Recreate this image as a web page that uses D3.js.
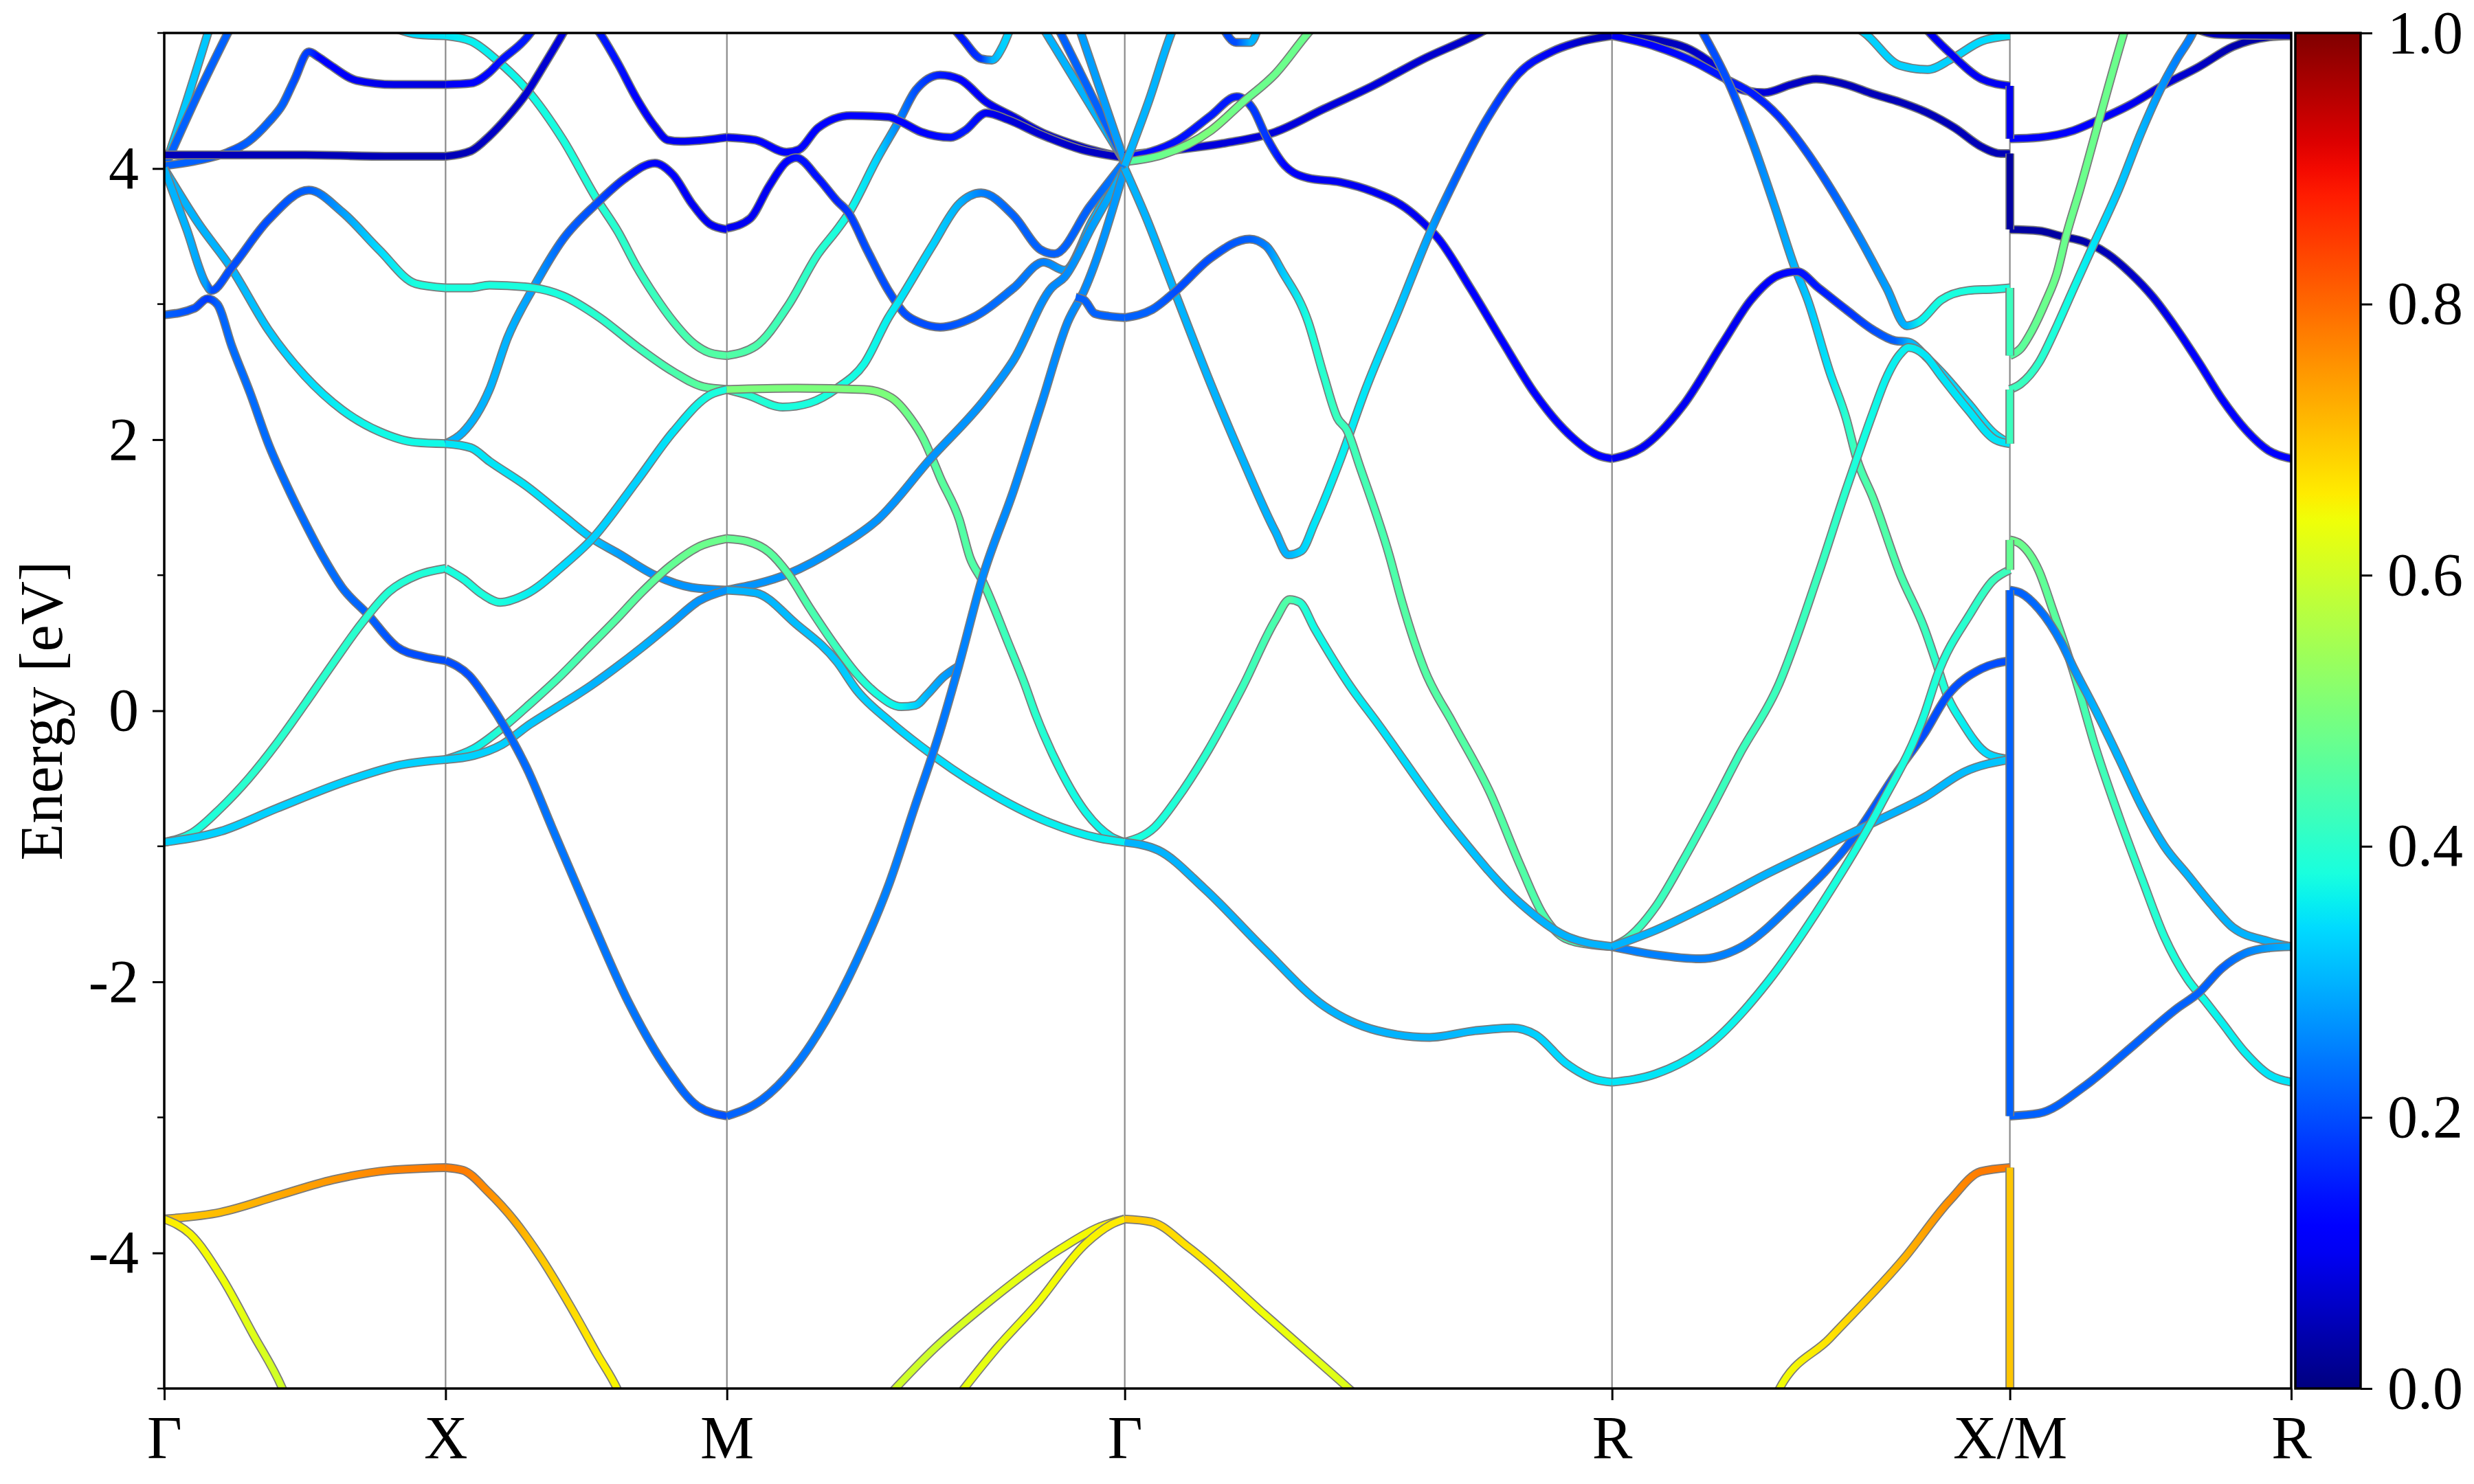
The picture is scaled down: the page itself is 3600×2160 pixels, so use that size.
<!DOCTYPE html>
<html><head><meta charset="utf-8">
<script src="https://cdn.jsdelivr.net/npm/d3@7"></script>
<style>body{margin:0;background:#fff}</style>
</head><body>
<svg id="c" width="3600" height="2160"></svg>
<script>
// ---------- axes data ----------
const kTicks = [0, 0.5, 1.0, 1.7071, 2.5731, 3.2802, 3.7802];
const kLabels = ["Γ", "X", "M", "Γ", "R", "X/M", "R"];
const yTicks = [-4, -2, 0, 2, 4];
const yMinorTicks = [-5, -3, -1, 1, 3, 5];
const cbTicks = [0.0, 0.2, 0.4, 0.6, 0.8, 1.0];

// ---------- bands: [k, E(eV), weight] ----------
// Γ - X
const gx1 = [[0,4.0,.33],[0.04,4.5,.32],[0.085,5.1,.32]];
const gx2 = [[0,4.0,.22],[0.06,4.55,.22],[0.125,5.1,.22]];
const gx3 = [[0,4.02,.22],[0.06,4.06,.22],[0.113,4.12,.2],[0.15,4.2,.22],[0.185,4.34,.22],[0.21,4.47,.22],[0.231,4.65,.2],[0.257,4.86,.18],[0.275,4.82,.12],[0.296,4.76,.12],[0.342,4.65,.1],[0.408,4.62,.09],[0.5,4.62,.08]];
const gx4 = [[0,4.1,.05],[0.1,4.1,.05],[0.25,4.1,.05],[0.4,4.09,.05],[0.5,4.09,.05]];
const gx5 = [[0,4.0,.3],[0.06,3.6,.3],[0.12,3.26,.3],[0.185,2.81,.32],[0.25,2.47,.34],[0.316,2.22,.36],[0.382,2.06,.37],[0.447,1.98,.37],[0.5,1.97,.37]];
const gx6 = [[0,4.0,.3],[0.04,3.55,.3],[0.074,3.15,.28],[0.084,3.1,.2],[0.12,3.27,.2],[0.185,3.62,.2],[0.257,3.84,.22],[0.316,3.68,.28],[0.382,3.4,.34],[0.447,3.15,.38],[0.5,3.12,.38]];
const gx7 = [[0,2.92,.22],[0.054,2.97,.2],[0.077,3.04,.18],[0.094,3.0,.22],[0.12,2.69,.23],[0.153,2.34,.23],[0.185,1.97,.23],[0.218,1.66,.23],[0.251,1.38,.23],[0.283,1.13,.23],[0.316,0.91,.23],[0.362,0.71,.22],[0.414,0.47,.2],[0.46,0.4,.2],[0.5,0.37,.2]];
const gx8 = [[0,-0.97,.38],[0.05,-0.9,.38],[0.1,-0.72,.39],[0.15,-0.5,.4],[0.2,-0.24,.4],[0.25,0.05,.4],[0.3,0.35,.4],[0.35,0.64,.4],[0.4,0.88,.39],[0.45,1.0,.39],[0.5,1.05,.38]];
const gx9 = [[0,-0.97,.33],[0.1,-0.89,.33],[0.2,-0.72,.33],[0.33,-0.51,.33],[0.42,-0.4,.33],[0.5,-0.36,.33]];
const gx10 = [[0,-3.75,.7],[0.1,-3.7,.71],[0.2,-3.58,.73],[0.3,-3.46,.75],[0.4,-3.39,.77],[0.5,-3.37,.78]];
const gx11 = [[0,-3.75,.66],[0.046,-3.86,.65],[0.102,-4.18,.64],[0.158,-4.6,.62],[0.21,-5.0,.6],[0.22,-5.1,.6]];
const gx12 = [[0.4,5.05,.33],[0.45,4.99,.34],[0.5,4.98,.35]];
// X - M
const xm1 = [[0.5,4.98,.35],[0.545,4.94,.36],[0.591,4.8,.36],[0.643,4.59,.37],[0.709,4.21,.38],[0.768,3.78,.39],[0.807,3.53,.4],[0.839,3.28,.41],[0.872,3.06,.42],[0.905,2.87,.43],[0.938,2.72,.44],[0.97,2.64,.45],[1.0,2.62,.45]];
const xm2 = [[0.5,4.09,.05],[0.545,4.13,.05],[0.578,4.24,.06],[0.61,4.38,.06],[0.643,4.55,.07],[0.676,4.77,.07],[0.709,5.0,.08],[0.72,5.08,.08]];
const xm3 = [[0.5,4.62,.1],[0.545,4.63,.12],[0.578,4.71,.13],[0.597,4.79,.14],[0.643,4.96,.15],[0.66,5.05,.15]];
const xm4 = [[0.76,5.08,.15],[0.774,5.0,.15],[0.807,4.77,.14],[0.839,4.52,.12],[0.872,4.31,.1],[0.895,4.21,.1],[0.918,4.2,.1],[0.96,4.21,.1],[1.0,4.23,.1]];
const xm5 = [[0.5,1.97,.3],[0.53,2.05,.3],[0.578,2.37,.3],[0.61,2.75,.3],[0.656,3.12,.28],[0.709,3.48,.22],[0.768,3.74,.2],[0.82,3.93,.15],[0.872,4.04,.12],[0.905,3.95,.12],[0.938,3.74,.1],[0.97,3.59,.1],[1.0,3.55,.1]];
const xm6 = [[0.5,3.12,.38],[0.545,3.12,.38],[0.578,3.14,.38],[0.656,3.12,.38],[0.709,3.06,.38],[0.774,2.9,.4],[0.839,2.69,.42],[0.905,2.5,.44],[0.958,2.39,.46],[1.0,2.37,.46]];
const xm7 = [[0.5,1.97,.35],[0.545,1.94,.35],[0.578,1.84,.35],[0.643,1.66,.35],[0.709,1.44,.34],[0.761,1.27,.32],[0.807,1.16,.28],[0.872,1.0,.27],[0.937,0.91,.27],[1.0,0.89,.27]];
const xm8 = [[0.5,1.05,.38],[0.532,0.97,.38],[0.565,0.86,.38],[0.597,0.8,.38],[0.643,0.86,.36],[0.709,1.07,.34],[0.761,1.27,.33],[0.839,1.69,.33],[0.905,2.06,.35],[0.97,2.33,.38],[1.0,2.37,.38]];
const xm9 = [[0.5,-0.36,.33],[0.55,-0.28,.36],[0.6,-0.13,.4],[0.65,0.05,.42],[0.7,0.24,.43],[0.75,0.45,.44],[0.8,0.66,.45],[0.85,0.88,.46],[0.9,1.07,.47],[0.95,1.21,.48],[1.0,1.27,.48]];
const xm10 = [[0.5,-0.36,.33],[0.55,-0.33,.33],[0.6,-0.25,.33],[0.65,-0.1,.32],[0.7,0.03,.32],[0.76,0.19,.3],[0.8,0.31,.3],[0.85,0.47,.3],[0.9,0.64,.28],[0.95,0.81,.27],[1.0,0.89,.27]];
const xm11 = [[0.5,0.37,.2],[0.542,0.26,.2],[0.576,0.07,.22],[0.605,-0.12,.22],[0.644,-0.42,.23],[0.689,-0.86,.24],[0.757,-1.52,.24],[0.825,-2.15,.24],[0.893,-2.64,.23],[0.949,-2.92,.22],[1.0,-2.99,.2]];
const xm12 = [[0.5,-3.37,.78],[0.531,-3.39,.78],[0.576,-3.55,.76],[0.622,-3.76,.73],[0.667,-4.02,.7],[0.72,-4.38,.68],[0.77,-4.75,.66],[0.808,-5.03,.65],[0.815,-5.1,.65]];
// M - Γ
const mg1 = [[1.0,2.62,.45],[1.051,2.69,.44],[1.109,2.99,.42],[1.162,3.37,.4],[1.196,3.55,.38],[1.215,3.66,.37],[1.268,4.08,.33],[1.307,4.36,.25],[1.336,4.58,.2],[1.379,4.69,.15],[1.413,4.66,.12],[1.461,4.49,.1],[1.51,4.38,.08],[1.558,4.27,.07],[1.63,4.16,.06],[1.707,4.08,.06]];
const mg2 = [[1.0,4.23,.1],[1.051,4.21,.12],[1.106,4.12,.12],[1.128,4.14,.13],[1.162,4.3,.12],[1.22,4.39,.12],[1.287,4.38,.12],[1.307,4.35,.12],[1.345,4.27,.12],[1.398,4.23,.14],[1.423,4.28,.15],[1.461,4.41,.1],[1.5,4.36,.08],[1.558,4.25,.07],[1.63,4.14,.06],[1.707,4.08,.06]];
const mg3 = [[1.0,3.56,.1],[1.041,3.63,.1],[1.075,3.87,.1],[1.106,4.05,.12],[1.123,4.08,.14],[1.162,3.93,.14],[1.196,3.76,.16],[1.215,3.68,.18],[1.249,3.4,.2],[1.287,3.1,.2],[1.316,2.93,.2],[1.345,2.86,.2],[1.379,2.83,.2],[1.437,2.9,.22],[1.51,3.12,.24],[1.563,3.31,.25],[1.6,3.25,.28],[1.65,3.62,.3],[1.707,4.02,.3]];
const mg4 = [[1.0,2.37,.42],[1.036,2.33,.4],[1.099,2.24,.38],[1.147,2.27,.38],[1.196,2.38,.38],[1.244,2.56,.37],[1.287,2.9,.36],[1.307,3.03,.35],[1.365,3.43,.33],[1.413,3.74,.3],[1.452,3.82,.25],[1.51,3.65,.22],[1.558,3.4,.22],[1.582,3.37,.22],[1.645,3.72,.22],[1.707,4.05,.25]];
const mg5 = [[1.0,2.37,.5],[1.123,2.38,.5],[1.244,2.37,.5],[1.292,2.31,.5],[1.326,2.16,.48],[1.35,2.0,.47],[1.365,1.86,.45],[1.379,1.72,.46],[1.413,1.41,.45],[1.432,1.13,.45],[1.454,0.96,.44],[1.5,0.5,.42],[1.529,0.2,.42],[1.548,-0.02,.4],[1.593,-0.44,.38],[1.638,-0.75,.37],[1.683,-0.93,.36],[1.707,-0.97,.36]];
const mg6 = [[1.0,0.89,.27],[1.109,1.01,.27],[1.196,1.2,.27],[1.268,1.41,.27],[1.36,1.85,.27],[1.461,2.31,.27],[1.51,2.59,.27],[1.577,3.12,.26],[1.6,3.2,.26],[1.65,3.58,.28],[1.707,4.0,.3]];
const mg7 = [[1.0,0.89,.3],[1.051,0.87,.3],[1.123,0.64,.31],[1.196,0.36,.32],[1.231,0.15,.33],[1.29,-0.08,.33],[1.344,-0.26,.34],[1.457,-0.58,.35],[1.57,-0.82,.36],[1.661,-0.94,.36],[1.707,-0.97,.36]];
const mg8 = [[1.0,1.27,.47],[1.036,1.25,.47],[1.075,1.17,.46],[1.109,1.01,.45],[1.147,0.76,.44],[1.196,0.46,.42],[1.229,0.28,.4],[1.265,0.13,.38],[1.31,0.03,.36],[1.335,0.04,.33],[1.356,0.12,.3],[1.385,0.25,.28],[1.412,0.33,.26]];
const mg9 = [[1.0,-2.99,.22],[1.062,-2.87,.23],[1.118,-2.64,.24],[1.175,-2.29,.25],[1.231,-1.84,.25],[1.288,-1.28,.25],[1.333,-0.72,.24],[1.378,-0.16,.24],[1.412,0.33,.25],[1.454,0.98,.26],[1.51,1.63,.26],[1.558,2.25,.26],[1.606,2.87,.26],[1.635,3.1,.26],[1.707,4.0,.28]];
const mg10 = [[1.62,3.05,.22],[1.635,3.03,.22],[1.654,2.93,.22],[1.679,2.91,.22],[1.707,2.9,.22]];
const mg11 = [[1.56,5.05,.3],[1.707,4.05,.3]];
const mg12 = [[1.587,5.05,.22],[1.707,4.05,.22]];
const mg13 = [[1.625,5.05,.28],[1.707,4.05,.28]];
const mg14 = [[1.4,5.05,.15],[1.42,4.95,.15],[1.452,4.81,.18],[1.471,4.8,.3],[1.49,4.9,.33],[1.505,5.05,.33]];
const mg15 = [[1.288,-5.05,.6],[1.37,-4.7,.6],[1.457,-4.39,.62],[1.593,-3.97,.64],[1.661,-3.81,.65],[1.707,-3.75,.66]];
const mg16 = [[1.412,-5.05,.63],[1.48,-4.7,.63],[1.548,-4.39,.64],[1.638,-3.93,.65],[1.683,-3.79,.66],[1.707,-3.75,.66]];
// Γ - R
const gr1 = [[1.707,4.1,.08],[1.802,4.14,.08],[1.888,4.19,.08],[1.975,4.27,.08],[2.061,4.44,.08],[2.148,4.61,.08],[2.234,4.8,.07],[2.338,5.0,.06],[2.36,5.05,.06]];
const gr2 = [[1.707,4.08,.12],[1.802,4.21,.14],[1.86,4.39,.15],[1.906,4.53,.15],[1.935,4.44,.18],[1.958,4.24,.18],[1.992,4.02,.12],[2.033,3.93,.1],[2.09,3.9,.1],[2.148,3.83,.1],[2.206,3.71,.1],[2.24,3.59,.1],[2.263,3.49,.12],[2.321,3.12,.12],[2.379,2.72,.12],[2.436,2.34,.12],[2.494,2.05,.12],[2.551,1.88,.12],[2.573,1.86,.12]];
const gr3 = [[1.707,4.05,.45],[1.773,4.1,.48],[1.86,4.28,.5],[1.917,4.49,.48],[1.975,4.7,.48],[2.033,5.0,.48],[2.05,5.08,.48]];
const gr4 = [[1.707,4.02,.3],[1.75,4.5,.3],[1.79,5.0,.3],[1.8,5.1,.3]];
const gr5 = [[1.88,5.05,.2],[1.905,4.93,.2],[1.93,4.93,.3],[1.945,5.05,.3]];
const gr6 = [[1.707,4.0,.3],[1.744,3.65,.3],[1.796,3.09,.3],[1.86,2.41,.3],[1.917,1.85,.3],[1.975,1.32,.3],[1.998,1.15,.3],[2.021,1.18,.33],[2.044,1.38,.35],[2.09,1.85,.36],[2.136,2.38,.35],[2.194,2.96,.32],[2.252,3.55,.28],[2.292,3.9,.22],[2.35,4.36,.2],[2.407,4.7,.15],[2.465,4.86,.1],[2.52,4.94,.06],[2.573,4.98,.05]];
const gr7 = [[1.707,2.9,.22],[1.756,2.96,.22],[1.796,3.09,.2],[1.86,3.34,.2],[1.929,3.48,.22],[1.958,3.43,.25],[1.987,3.24,.32],[2.033,2.87,.38],[2.061,2.47,.4],[2.085,2.16,.42],[2.102,2.07,.42],[2.125,1.8,.43],[2.177,1.15,.44],[2.2,0.8,.45],[2.24,0.3,.45],[2.29,-0.09,.45],[2.357,-0.61,.45],[2.41,-1.14,.45],[2.45,-1.5,.44],[2.49,-1.68,.43],[2.544,-1.73,.42],[2.573,-1.74,.42]];
const gr8 = [[1.707,-0.97,.38],[1.76,-0.86,.38],[1.8,-0.65,.39],[1.85,-0.33,.4],[1.917,0.18,.42],[1.975,0.67,.44],[2.0,0.82,.45],[2.018,0.8,.4],[2.044,0.61,.37],[2.108,0.18,.36],[2.156,-0.09,.35],[2.29,-0.86,.32],[2.41,-1.42,.3],[2.49,-1.66,.3],[2.573,-1.74,.3]];
const gr9 = [[1.707,-0.97,.3],[1.767,-1.03,.3],[1.848,-1.31,.3],[1.955,-1.76,.3],[2.062,-2.18,.3],[2.156,-2.36,.3],[2.249,-2.41,.3],[2.33,-2.36,.31],[2.397,-2.34,.32],[2.437,-2.39,.33],[2.491,-2.6,.34],[2.544,-2.72,.35],[2.573,-2.74,.35]];
const gr10 = [[1.707,-3.75,.7],[1.754,-3.77,.69],[1.821,-3.96,.67],[1.955,-4.45,.64],[2.089,-4.94,.62],[2.116,-5.04,.62]];
// R - X
const rx1 = [[2.573,4.98,.05],[2.65,4.95,.05],[2.72,4.86,.06],[2.757,4.75,.08],[2.78,4.64,.1],[2.805,4.58,.1],[2.844,4.56,.08],[2.892,4.62,.06],[2.936,4.66,.05],[2.989,4.62,.05],[3.037,4.55,.05],[3.085,4.49,.05],[3.134,4.41,.05],[3.182,4.3,.05],[3.23,4.16,.05],[3.264,4.11,.05],[3.2802,4.11,.05]];
const rx2 = [[2.573,4.98,.1],[2.651,4.9,.12],[2.723,4.78,.14],[2.771,4.67,.15],[2.824,4.55,.15],[2.868,4.39,.17],[2.916,4.14,.2],[2.965,3.83,.22],[3.013,3.49,.25],[3.061,3.12,.28],[3.097,2.84,.3],[3.119,2.87,.36],[3.158,3.03,.38],[3.206,3.1,.38],[3.25,3.11,.38],[3.2802,3.12,.38]];
const rx3 = [[2.728,5.05,.2],[2.786,4.58,.2],[2.824,4.18,.25],[2.863,3.71,.28],[2.897,3.28,.3],[2.921,3.03,.32],[2.96,2.5,.35],[2.989,2.16,.4],[3.008,1.86,.43],[3.037,1.57,.45],[3.085,1.01,.44],[3.128,0.61,.42],[3.152,0.32,.4],[3.169,0.11,.38],[3.193,-0.07,.36],[3.242,-0.32,.34],[3.2802,-0.36,.33]];
const rx4 = [[2.573,1.86,.1],[2.626,1.94,.1],[2.699,2.25,.1],[2.771,2.72,.1],[2.82,3.03,.1],[2.868,3.21,.12],[2.902,3.24,.14],[2.94,3.12,.15],[2.989,2.96,.17],[3.037,2.81,.2],[3.076,2.73,.22],[3.1,2.72,.3],[3.134,2.6,.32],[3.158,2.5,.33],[3.206,2.27,.34],[3.254,2.04,.35],[3.2802,1.97,.35]];
const rx5 = [[2.573,-1.74,.42],[2.6,-1.68,.42],[2.65,-1.45,.42],[2.7,-1.1,.42],[2.75,-0.72,.42],[2.8,-0.32,.42],[2.868,0.18,.42],[2.94,1.01,.42],[2.989,1.63,.4],[3.008,1.86,.38],[3.037,2.2,.37],[3.06,2.45,.36],[3.085,2.63,.36],[3.1,2.68,.36],[3.13,2.62,.35],[3.158,2.47,.35],[3.206,2.22,.35],[3.254,2.0,.35],[3.2802,1.97,.35]];
const rx6 = [[3.0,5.06,.33],[3.022,5.0,.33],[3.085,4.76,.33],[3.134,4.73,.33],[3.177,4.81,.33],[3.23,4.94,.34],[3.2802,4.98,.35]];
const rx7 = [[3.125,5.06,.1],[3.138,5.0,.1],[3.177,4.84,.1],[3.23,4.66,.1],[3.2802,4.61,.1]];
const rx8 = [[2.573,-1.74,.25],[2.65,-1.8,.25],[2.73,-1.83,.25],[2.8,-1.75,.25],[2.9,-1.4,.24],[3.0,-0.95,.22],[3.08,-0.45,.2],[3.128,-0.17,.2],[3.169,0.11,.2],[3.23,0.31,.2],[3.2802,0.37,.2]];
const rx9 = [[2.573,-1.74,.3],[2.65,-1.62,.3],[2.75,-1.42,.3],[2.85,-1.2,.3],[2.95,-1.0,.3],[3.05,-0.8,.3],[3.128,-0.64,.3],[3.2,-0.45,.31],[3.2802,-0.36,.32]];
const rx10 = [[2.573,-2.74,.35],[2.65,-2.68,.35],[2.75,-2.45,.36],[2.85,-2.0,.37],[2.95,-1.4,.38],[3.05,-0.7,.38],[3.128,-0.03,.38],[3.152,0.27,.39],[3.209,0.71,.4],[3.25,0.96,.42],[3.2802,1.04,.42]];
const rx11 = [[2.86,-5.1,.64],[2.866,-5.04,.64],[2.96,-4.63,.67],[3.094,-4.03,.72],[3.174,-3.61,.76],[3.228,-3.4,.78],[3.2802,-3.37,.78]];
// M - R
const mr1 = [[3.2802,4.22,.12],[3.332,4.23,.12],[3.393,4.28,.12],[3.433,4.35,.12],[3.494,4.47,.1],[3.551,4.61,.08],[3.616,4.75,.06],[3.677,4.9,.04],[3.739,4.97,.03],[3.7802,4.98,.03]];
const mr2 = [[3.2802,3.55,.03],[3.332,3.54,.03],[3.372,3.5,.03],[3.413,3.46,.04],[3.454,3.37,.05],[3.494,3.23,.06],[3.535,3.05,.08],[3.576,2.82,.1],[3.616,2.57,.11],[3.657,2.3,.12],[3.7,2.07,.12],[3.74,1.92,.12],[3.7802,1.86,.12]];
const mr3 = [[3.2802,2.62,.45],[3.299,2.67,.46],[3.319,2.8,.47],[3.344,3.02,.48],[3.364,3.23,.48],[3.38,3.5,.48],[3.405,3.85,.48],[3.437,4.33,.48],[3.482,4.99,.48],[3.49,5.1,.48]];
const mr4 = [[3.2802,2.37,.42],[3.299,2.41,.42],[3.332,2.57,.4],[3.364,2.84,.38],[3.393,3.11,.37],[3.429,3.44,.35],[3.474,3.85,.32],[3.515,4.28,.3],[3.551,4.61,.27],[3.576,4.8,.25],[3.604,4.99,.25],[3.612,5.06,.25]];
const mr5 = [[3.2802,1.26,.48],[3.299,1.23,.48],[3.332,1.03,.47],[3.356,0.75,.46],[3.393,0.29,.44],[3.433,-0.28,.43],[3.474,-0.78,.42],[3.515,-1.24,.4],[3.555,-1.67,.39],[3.596,-1.98,.38],[3.629,-2.15,.37],[3.657,-2.3,.36],[3.698,-2.52,.36],[3.739,-2.68,.35],[3.7802,-2.74,.35]];
const mr6 = [[3.2802,0.89,.22],[3.299,0.87,.22],[3.332,0.75,.23],[3.372,0.5,.25],[3.393,0.32,.27],[3.433,0.0,.3],[3.474,-0.35,.3],[3.515,-0.71,.3],[3.555,-1.0,.3],[3.596,-1.21,.3],[3.637,-1.42,.3],[3.677,-1.6,.3],[3.739,-1.7,.3],[3.7802,-1.74,.3]];
const mr7 = [[3.2802,-2.99,.22],[3.332,-2.97,.22],[3.413,-2.77,.22],[3.494,-2.49,.22],[3.576,-2.2,.22],[3.616,-2.08,.22],[3.657,-1.9,.22],[3.698,-1.79,.25],[3.739,-1.75,.28],[3.7802,-1.74,.3]];
const mr8 = [[3.6,5.05,.05],[3.65,4.99,.05],[3.7802,4.98,.05]];
// vertical jumps at X/M : [E1, E2, weight]
const xmJumps = [[-5.1,-3.37,.7],[-2.99,0.89,.22],[1.04,1.26,.47],[1.97,2.37,.42],[2.62,3.12,.42],[3.55,4.11,.03],[4.22,4.61,.1]];

const bands = [gx1,gx2,gx3,gx4,gx5,gx6,gx7,gx8,gx9,gx10,gx11,gx12,
  xm1,xm2,xm3,xm4,xm5,xm6,xm7,xm8,xm9,xm10,xm11,xm12,
  mg1,mg2,mg3,mg4,mg5,mg6,mg7,mg8,mg9,mg10,mg11,mg12,mg13,mg14,mg15,mg16,
  gr1,gr2,gr3,gr4,gr5,gr6,gr7,gr8,gr9,gr10,
  rx1,rx2,rx3,rx4,rx5,rx6,rx7,rx8,rx9,rx10,rx11,
  mr1,mr2,mr3,mr4,mr5,mr6,mr7,mr8];

// ---------- layout ----------
const L = 239, R = 3334, T = 48, B = 2021;
const CBL = 3340, CBR = 3435;
const FONT = "'Liberation Serif','Times New Roman',serif";
const FS = 88;

const svg = d3.select("#c");
const defs = svg.append("defs");
const x = d3.scaleLinear().domain([0, 3.7802]).range([L, R]);
const y = d3.scaleLinear().domain([-5, 5]).range([B, T]);

// jet colormap
const jr = d3.scaleLinear().domain([0,0.35,0.66,0.89,1]).range([0,0,1,1,0.5]).clamp(true);
const jg = d3.scaleLinear().domain([0,0.125,0.375,0.64,0.91,1]).range([0,0,1,1,0,0]).clamp(true);
const jb = d3.scaleLinear().domain([0,0.11,0.34,0.65,1]).range([0.5,1,1,0,0]).clamp(true);
const jet = w => d3.rgb(Math.round(jr(w)*255), Math.round(jg(w)*255), Math.round(jb(w)*255)).formatHex();

defs.append("clipPath").attr("id","clip").append("rect")
  .attr("x", L).attr("y", T).attr("width", R-L).attr("height", B-T);

// high-symmetry vertical lines
svg.append("g").selectAll("line").data(kTicks.slice(1, -1)).join("line")
  .attr("x1", d => x(d)).attr("x2", d => x(d)).attr("y1", T).attr("y2", B)
  .attr("stroke", "#8a8a8a").attr("stroke-width", 2.2);

const g = svg.append("g").attr("clip-path", "url(#clip)");
const line = d3.line().x(d => x(d[0])).y(d => y(d[1])).curve(d3.curveMonotoneX);
const OUT = 13, IN = 9.5;

bands.forEach((b, i) => {
  const x0 = x(b[0][0]), x1 = x(b[b.length-1][0]);
  const gr = defs.append("linearGradient").attr("id", "bg" + i)
    .attr("gradientUnits", "userSpaceOnUse")
    .attr("x1", x0).attr("x2", x1).attr("y1", 0).attr("y2", 0);
  b.forEach(p => gr.append("stop").attr("offset", (x(p[0]) - x0) / (x1 - x0)).attr("stop-color", jet(p[2])));
  const d = line(b);
  g.append("path").attr("d", d).attr("fill", "none").attr("stroke", "#7a7a7a")
    .attr("stroke-width", OUT).attr("stroke-linejoin", "round");
  g.append("path").attr("d", d).attr("fill", "none").attr("stroke", `url(#bg${i})`)
    .attr("stroke-width", IN).attr("stroke-linejoin", "round");
});

// jumps at X/M
const xj = x(3.2802);
xmJumps.forEach(j => {
  g.append("line").attr("x1", xj).attr("x2", xj).attr("y1", y(j[0])).attr("y2", y(j[1]))
    .attr("stroke", "#7a7a7a").attr("stroke-width", OUT);
  g.append("line").attr("x1", xj).attr("x2", xj).attr("y1", y(j[0])).attr("y2", y(j[1]))
    .attr("stroke", jet(j[2])).attr("stroke-width", IN);
});

// frame
svg.append("rect").attr("x", L).attr("y", T).attr("width", R-L).attr("height", B-T)
  .attr("fill", "none").attr("stroke", "#000").attr("stroke-width", 3.5);

// y axis
const yAxis = d3.axisLeft(y).tickValues(yTicks).tickSize(17).tickPadding(20).tickFormat(d => String(d));
const ya = svg.append("g").attr("transform", `translate(${L},0)`).call(yAxis);
ya.select(".domain").remove();
ya.selectAll(".tick line").attr("stroke", "#000").attr("stroke-width", 3);
ya.selectAll(".tick text").attr("font-family", FONT).attr("font-size", FS).attr("fill", "#000");
svg.append("g").selectAll("line").data(yMinorTicks).join("line")
  .attr("x1", L - 10).attr("x2", L).attr("y1", d => y(d)).attr("y2", d => y(d))
  .attr("stroke", "#000").attr("stroke-width", 2.5);

// x axis
const xAxis = d3.axisBottom(x).tickValues(kTicks).tickSize(17).tickPadding(22).tickFormat((d, i) => kLabels[i]);
const xa = svg.append("g").attr("transform", `translate(0,${B})`).call(xAxis);
xa.select(".domain").remove();
xa.selectAll(".tick line").attr("stroke", "#000").attr("stroke-width", 3);
xa.selectAll(".tick text").attr("font-family", FONT).attr("font-size", FS).attr("fill", "#000");

// y label
svg.append("text").attr("transform", `translate(70,${(T+B)/2}) rotate(-90)`)
  .attr("text-anchor", "middle").attr("dominant-baseline", "middle")
  .attr("font-family", FONT).attr("font-size", FS).text("Energy [eV]");

// colorbar
const cg = defs.append("linearGradient").attr("id", "cbg").attr("x1", 0).attr("x2", 0).attr("y1", 1).attr("y2", 0);
d3.range(0, 1.0001, 0.02).forEach(v => cg.append("stop").attr("offset", v).attr("stop-color", jet(v)));
svg.append("rect").attr("x", CBL).attr("y", T).attr("width", CBR-CBL).attr("height", B-T)
  .attr("fill", "url(#cbg)").attr("stroke", "#000").attr("stroke-width", 3.5);
const c = d3.scaleLinear().domain([0, 1]).range([B, T]);
const cAxis = d3.axisRight(c).tickValues(cbTicks).tickSize(17).tickPadding(22).tickFormat(d3.format(".1f"));
const ca = svg.append("g").attr("transform", `translate(${CBR},0)`).call(cAxis);
ca.select(".domain").remove();
ca.selectAll(".tick line").attr("stroke", "#000").attr("stroke-width", 3);
ca.selectAll(".tick text").attr("font-family", FONT).attr("font-size", FS).attr("fill", "#000");
</script>
</body></html>
